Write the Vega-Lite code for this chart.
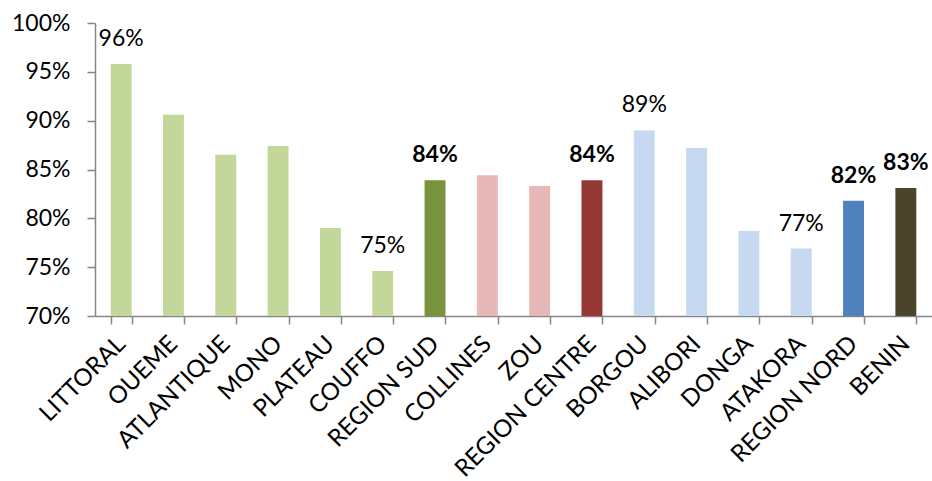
{
  "$schema": "https://vega.github.io/schema/vega-lite/v6.json",
  "width": 837,
  "height": 293,
  "autosize": {"type": "none"},
  "padding": {"left": 95, "top": 23, "right": 0, "bottom": 165},
  "background": "white",
  "config": {
    "view": {"stroke": null},
    "font": "Lato",
    "axis": {
      "domainColor": "#868686",
      "domainWidth": 1.5,
      "tickColor": "#868686",
      "tickWidth": 1.5,
      "tickSize": 8,
      "labelColor": "#000000",
      "labelFont": "Lato",
      "labelFontSize": 23,
      "labelLimit": 400,
      "grid": false,
      "title": null
    }
  },
  "data": {
    "values": [
      {"nom": "LITTORAL", "zone": "Sud", "niveau": "département", "taux": 0.958},
      {"nom": "OUEME", "zone": "Sud", "niveau": "département", "taux": 0.906},
      {"nom": "ATLANTIQUE", "zone": "Sud", "niveau": "département", "taux": 0.865},
      {"nom": "MONO", "zone": "Sud", "niveau": "département", "taux": 0.874},
      {"nom": "PLATEAU", "zone": "Sud", "niveau": "département", "taux": 0.790},
      {"nom": "COUFFO", "zone": "Sud", "niveau": "département", "taux": 0.746},
      {"nom": "REGION SUD", "zone": "Sud", "niveau": "région", "taux": 0.839},
      {"nom": "COLLINES", "zone": "Centre", "niveau": "département", "taux": 0.844},
      {"nom": "ZOU", "zone": "Centre", "niveau": "département", "taux": 0.833},
      {"nom": "REGION CENTRE", "zone": "Centre", "niveau": "région", "taux": 0.839},
      {"nom": "BORGOU", "zone": "Nord", "niveau": "département", "taux": 0.890},
      {"nom": "ALIBORI", "zone": "Nord", "niveau": "département", "taux": 0.872},
      {"nom": "DONGA", "zone": "Nord", "niveau": "département", "taux": 0.787},
      {"nom": "ATAKORA", "zone": "Nord", "niveau": "département", "taux": 0.769},
      {"nom": "REGION NORD", "zone": "Nord", "niveau": "région", "taux": 0.818},
      {"nom": "BENIN", "zone": "National", "niveau": "pays", "taux": 0.831}
    ]
  },
  "encoding": {
    "x": {
      "field": "nom",
      "type": "nominal",
      "sort": null,
      "scale": {"paddingInner": 0.6, "paddingOuter": 0.3},
      "axis": {
        "labelAngle": -45,
        "labelAlign": "right",
        "labelBaseline": "middle",
        "labelPadding": 16,
        "tickBand": "extent",
        "labelFontSize": 24
      }
    },
    "y": {
      "field": "taux",
      "type": "quantitative",
      "scale": {"domain": [0.7, 1.0], "zero": false, "clamp": true, "nice": false},
      "axis": {"format": ".0%", "values": [0.7, 0.75, 0.8, 0.85, 0.9, 0.95, 1.0], "labelPadding": 17}
    }
  },
  "layer": [
    {
      "mark": {"type": "bar"},
      "encoding": {
        "color": {
          "field": "nom",
          "type": "nominal",
          "legend": null,
          "scale": {
            "domain": ["LITTORAL", "OUEME", "ATLANTIQUE", "MONO", "PLATEAU", "COUFFO", "REGION SUD", "COLLINES", "ZOU", "REGION CENTRE", "BORGOU", "ALIBORI", "DONGA", "ATAKORA", "REGION NORD", "BENIN"],
            "range": ["#C4D79B", "#C4D79B", "#C4D79B", "#C4D79B", "#C4D79B", "#C4D79B", "#77933C", "#E6B9B8", "#E6B9B8", "#953735", "#C6D9F1", "#C6D9F1", "#C6D9F1", "#C6D9F1", "#4F81BD", "#4A452A"]
          }
        }
      }
    },
    {
      "transform": [{"filter": {"field": "nom", "oneOf": ["LITTORAL", "COUFFO", "BORGOU", "ATAKORA"]}}],
      "mark": {"type": "text", "baseline": "alphabetic", "dy": -18, "fontSize": 23, "color": "#000000"},
      "encoding": {"text": {"field": "taux", "type": "quantitative", "format": ".0%"}}
    },
    {
      "transform": [{"filter": "datum.niveau !== 'département'"}],
      "mark": {"type": "text", "baseline": "alphabetic", "dy": -18, "fontSize": 23, "fontWeight": "bold", "color": "#000000"},
      "encoding": {"text": {"field": "taux", "type": "quantitative", "format": ".0%"}}
    }
  ]
}
